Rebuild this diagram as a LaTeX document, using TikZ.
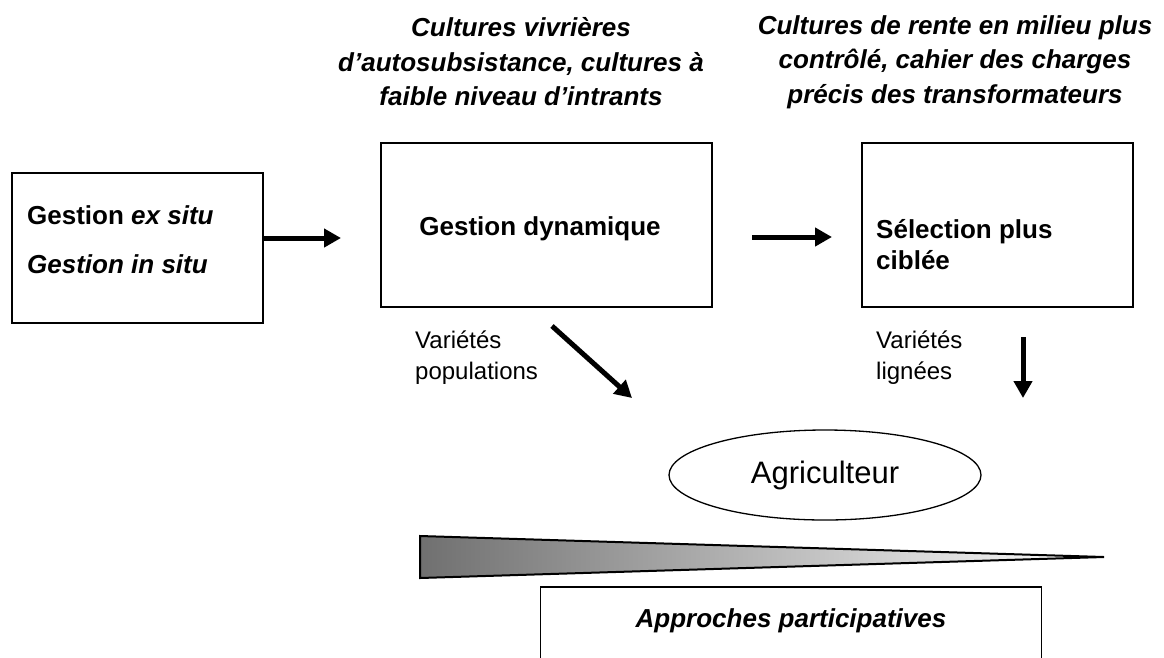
\documentclass[tikz,border=0pt]{standalone}
\usepackage{fontspec}
\setmainfont{Liberation Sans}
\usetikzlibrary{arrows.meta,shapes.geometric}
\definecolor{wedgedark}{RGB}{112,112,112}
\tikzset{
  box/.style={draw=black, line width=1.5pt, inner sep=0pt, fill=white},
  bigbold/.style={font=\fontsize{26}{34.5}\selectfont\bfseries},
  bigboldit/.style={font=\fontsize{26}{34.5}\selectfont\bfseries\itshape},
  varlabel/.style={font=\fontsize{24}{31}\selectfont, align=left, anchor=west, inner sep=0pt},
  fatarrow/.style={line width=5pt, -{Triangle[length=17pt,width=18pt]}},
}
\begin{document}
\begin{tikzpicture}[x=1pt,y=-1pt]
\clip (0,0) rectangle (1164,657);
\fill[white] (0,0) rectangle (1164,657);

% titles
\node[bigboldit, align=center, inner sep=0pt] (t1) at (521,62)
  {Cultures vivrières\\d’autosubsistance, cultures à\\faible niveau d’intrants};
\node[bigboldit, align=center, inner sep=0pt] (t2) at (955,62)
  {Cultures de rente en milieu plus\\contrôlé, cahier des charges\\précis des transformateurs};

% boxes
\node[box, minimum width=251pt, minimum height=150pt] (lbox) at (137.5,248) {};
\node[align=left, anchor=west, inner sep=0pt,
      font=\fontsize{26}{49}\selectfont\bfseries] (ltext) at (27,240)
  {Gestion \textit{ex situ}\\\textit{Gestion in situ}};

\node[box, minimum width=331pt, minimum height=164pt] (dyn) at (546.5,225) {};
\node[bigbold, inner sep=0pt] (dyntext) at (540,229) {Gestion dynamique};

\node[box, minimum width=271pt, minimum height=164pt] (sel) at (997.5,225) {};
\node[bigbold, align=left, anchor=west, inner sep=0pt,
      font=\fontsize{26}{31}\selectfont\bfseries] (seltext) at (876,245)
  {Sélection plus\\ciblée};

% horizontal arrows
\coordinate (a1end) at (341,238);
\draw[fatarrow] (lbox.east |- a1end) -- (a1end);
\coordinate (a2start) at (752,237);
\coordinate (a2end) at (832,237);
\draw[fatarrow] (a2start) -- (a2end);

% variety labels
\node[varlabel] (vpop) at (415,358) {Variétés\\populations};
\node[varlabel] (vlig) at (876,358) {Variétés\\lignées};

% lower arrows
\coordinate (d1start) at (552,326);
\coordinate (d1end) at (632,398);
\draw[fatarrow] (d1start) -- (d1end);
\coordinate (d2start) at (1023,337);
\coordinate (d2end) at (1023,398);
\draw[fatarrow] (d2start) -- (d2end);

% farmer ellipse
\node[ellipse, draw=black, line width=1.3pt, minimum width=312pt, minimum height=90pt,
      inner sep=0pt, font=\fontsize{31}{36}\selectfont] (agri) at (825,475) {Agriculteur};

% gradient wedge
\coordinate (wtop) at (420,536);
\coordinate (wbot) at (420,578);
\coordinate (wtip) at (1104,557);
\shade[left color=wedgedark, right color=white] (wtop) -- (wtip) -- (wbot) -- cycle;
\draw[line width=2pt, line join=miter] (wtop) -- (wtip) -- (wbot) -- cycle;

% participatory box
\node[box, minimum width=501pt, minimum height=160pt, anchor=north] (part) at (791,586) {};
\node[bigboldit, inner sep=0pt] (parttext) at (791,621) {Approches participatives};
\end{tikzpicture}
\end{document}
